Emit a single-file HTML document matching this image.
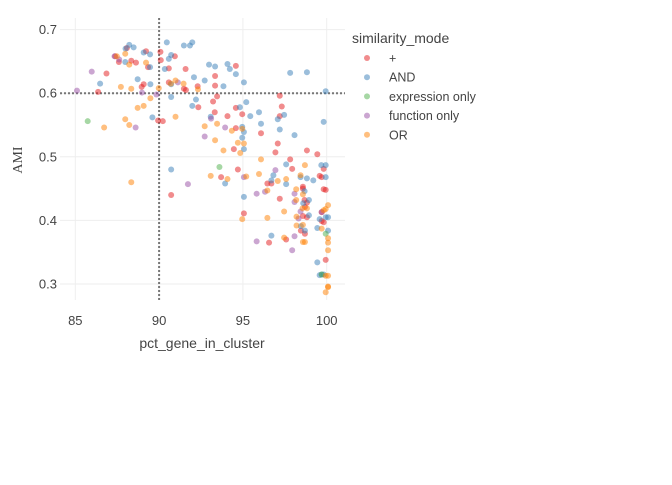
<!DOCTYPE html>
<html><head><meta charset="utf-8"><style>
body{margin:0;background:#fff;}
svg{font-family:"Liberation Sans",sans-serif;}
</style></head><body>
<svg id="chart" width="672" height="480">
<rect width="672" height="480" fill="#fff"/>
<g id="grid"></g><g id="ref"></g><g id="pts"></g><g id="axes"></g><g id="legend"></g>
</svg>
<script>
const categories=["+","AND","expression only","function only","OR"];
const colors=["#e41a1c","#377eb8","#4daf4a","#984ea3","#ff7f00"];
const xTicks=[85,90,95,100];
const yTicks=[0.3,0.4,0.5,0.6,0.7];
const refX=90, refY=0.6;
const andX=[88.22,88.48,88,89.08,89.46,87.98,89.46,88.72,86.48,89.48,90.46,91.48,91.84,91.98,90.72,90.58,90.34,90.72,90.72,89.6,92.08,92.72,92.98,93.34,94.08,94.22,94.58,95.06,93.84,92.2,91.98,93.08,94.82,95.2,95.44,95.96,97.46,97.08,97.2,98.08,96.08,94.96,95.06,94.96,95.06,97.82,98.82,99.94,99.82,97.58,99.68,99.94,90.72,93.94,95.06,96.82,96.7,97.58,98.44,98.82,99.2,98.68,98.94,98.6,98.94,99.94,99.58,99.94,100.08,98.46,98.7,99.44,100.08,96.7,99.44,99.58,99.7,99.82];
const andY=[.676,.672,.670,.664,.661,.649,.641,.622,.615,.614,.680,.675,.675,.680,.660,.654,.638,.614,.594,.562,.625,.620,.645,.642,.646,.638,.630,.617,.611,.590,.580,.563,.578,.586,.564,.570,.566,.559,.543,.534,.552,.547,.539,.530,.512,.632,.633,.603,.555,.488,.487,.487,.480,.458,.437,.471,.463,.457,.468,.466,.463,.446,.432,.427,.408,.468,.402,.405,.405,.391,.384,.388,.384,.376,.334,.314,.315,.315];
const plusX=[87.38,88.08,89.22,90.08,90.94,88.34,88.62,87.6,89.34,86.86,89.08,88.96,86.36,90.1,90.58,91.58,90.58,91.48,91.6,92.3,93.34,93.34,94.58,93.46,93.22,92.34,93.32,94.08,94.58,94.96,94.58,96.08,97.2,97.32,97.2,89.94,90.22,94.46,96.94,97.08,97.82,98.82,99.44,97.94,99.82,94.7,90.72,93.7,96.46,96.7,98.58,98.58,99.82,99.94,97.2,98.68,98.82,98.7,98.82,98.58,99.7,99.7,99.82,95.06,96.56,97.58,98.46,98.7,99.94,99.58,99.7];
const plusY=[.658,.671,.666,.665,.658,.651,.648,.649,.641,.631,.614,.610,.602,.652,.639,.638,.617,.607,.605,.611,.627,.612,.643,.595,.587,.578,.570,.564,.577,.567,.545,.537,.596,.579,.564,.557,.556,.512,.507,.521,.496,.510,.504,.481,.481,.480,.440,.468,.458,.458,.453,.450,.449,.448,.434,.432,.428,.421,.405,.407,.413,.399,.397,.411,.365,.370,.384,.379,.338,.470,.468];
const orX=[87.98,89.22,88.22,87.72,88.34,89.98,90.98,91.46,92.32,89.48,88.72,89.08,87.98,88.22,86.72,90.98,92.72,93.46,94.34,94.96,93.34,94.7,95.06,93.84,94.84,96.08,98.7,87.48,90.7,88.34,93.08,95.2,94.08,95.96,97.08,97.58,98.44,98.58,98.18,96.46,98.18,98.82,98.56,97.46,94.96,96.46,98.2,98.2,98.58,99.7,99.82,100.08,99.94,100.08,100.08,100.08,97.46,98.58,98.7,99.94,100.08,100.08,100.08,99.94];
const orY=[.662,.648,.645,.610,.607,.608,.620,.615,.606,.592,.577,.580,.559,.550,.546,.563,.548,.552,.541,.544,.526,.522,.521,.510,.506,.496,.487,.658,.615,.460,.470,.469,.465,.473,.462,.465,.471,.441,.449,.447,.432,.419,.419,.414,.402,.404,.406,.392,.393,.387,.416,.424,.418,.372,.365,.353,.373,.366,.366,.313,.313,.296,.295,.287];
const funX=[87.34,85.98,87.62,88.98,89.84,91.12,85.1,88.6,93.1,93.94,92.72,96.94,91.72,95.06,95.82,96.32,98.08,98.08,98.32,98.44,99.7,95.82,98.08,97.94];
const funY=[.658,.634,.653,.601,.598,.617,.604,.546,.560,.546,.532,.479,.457,.468,.442,.445,.442,.429,.403,.414,.413,.367,.375,.353];
const expX=[85.74,93.6,99.94,99.7];
const expY=[.556,.484,.379,.315];
const seriesX=[plusX,andX,expX,funX,orX];
const seriesY=[plusY,andY,expY,funY,orY];

const NS="http://www.w3.org/2000/svg";
const L=60,R=345,T=18,B=300;
const sx=v=>75.3+(v-85)*16.76;
const sy=v=>284-(v-0.3)*636;
function mk(tag,attrs,parent,text){const e=document.createElementNS(NS,tag);for(const k in attrs)e.setAttribute(k,attrs[k]);if(text!==undefined)e.textContent=text;parent.appendChild(e);return e;}
const grid=document.getElementById('grid'),ref=document.getElementById('ref'),pts=document.getElementById('pts'),axes=document.getElementById('axes'),leg=document.getElementById('legend');
xTicks.forEach(t=>{
 const g=mk('line',{x1:sx(t),x2:sx(t),y1:T,y2:B,stroke:'#eee','stroke-width':1},grid);
 
 const l=mk('text',{x:sx(t),y:325,'text-anchor':'middle','font-size':13,fill:'#444'},axes,String(t));
 
});
yTicks.forEach(t=>{
 const g=mk('line',{x1:L,x2:R,y1:sy(t),y2:sy(t),stroke:'#eee','stroke-width':1},grid);
 
 const l=mk('text',{x:57,y:sy(t)+4.5,'text-anchor':'end','font-size':13,fill:'#444'},axes,t.toFixed(1));
 
});
const rv=mk('line',{x1:sx(refX),x2:sx(refX),y1:T,y2:B,stroke:'#777','stroke-width':2,'stroke-dasharray':'2,2'},ref);

const rh=mk('line',{x1:L,x2:R,y1:sy(refY),y2:sy(refY),stroke:'#777','stroke-width':2,'stroke-dasharray':'2,2'},ref);

seriesX.forEach((xs,i)=>{
 xs.forEach((x,j)=>{
  const c=mk('circle',{cx:sx(x),cy:sy(seriesY[i][j]),r:3,fill:colors[i],'fill-opacity':0.5},pts);
  
  
 });
});
const xt=mk('text',{x:202,y:348,'text-anchor':'middle','font-size':14,fill:'#444'},axes,'pct_gene_in_cluster');

const yt=mk('text',{x:22,y:160,'text-anchor':'middle','font-size':14,fill:'#444',transform:'rotate(-90 22 160)','font-family':'Liberation Serif, serif'},axes,'AMI');

const lt=mk('text',{x:352,y:43,'font-size':14,fill:'#444'},leg,'similarity_mode');

categories.forEach((c,i)=>{
 const y=58+i*19.2;
 const g=mk('g',{},leg);
 
 mk('circle',{cx:367,cy:y,r:3,fill:colors[i],'fill-opacity':0.5},g);
 mk('text',{x:389,y:y+4.5,'font-size':12.5,fill:'#444'},g,c);
});
</script>
</body></html>
